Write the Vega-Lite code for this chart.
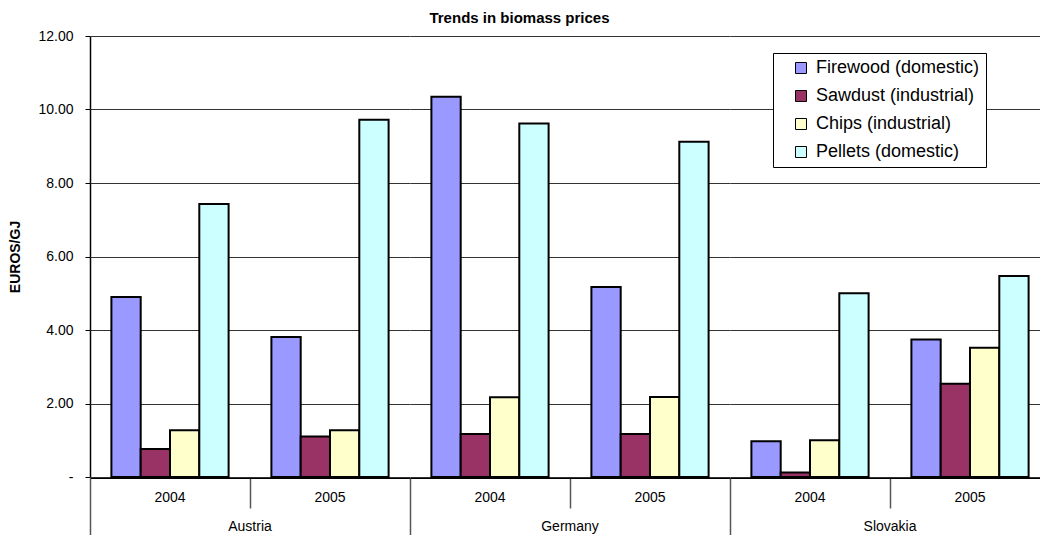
{
  "$schema": "https://vega.github.io/schema/vega-lite/v6.json",
  "padding": {"left": 8, "top": 11, "right": 0, "bottom": 0},
  "background": "#ffffff",
  "title": {"text": "Trends in biomass prices", "anchor": "middle", "font": "Liberation Sans", "fontSize": 15, "fontWeight": "bold", "color": "#000000", "baseline": "alphabetic", "offset": -9, "dx": -10},
  "data": {"values": [
    {"country": "Austria", "year": "2004", "type": "Firewood (domestic)", "value": 4.90},
    {"country": "Austria", "year": "2004", "type": "Sawdust (industrial)", "value": 0.76},
    {"country": "Austria", "year": "2004", "type": "Chips (industrial)", "value": 1.27},
    {"country": "Austria", "year": "2004", "type": "Pellets (domestic)", "value": 7.43},
    {"country": "Austria", "year": "2005", "type": "Firewood (domestic)", "value": 3.81},
    {"country": "Austria", "year": "2005", "type": "Sawdust (industrial)", "value": 1.10},
    {"country": "Austria", "year": "2005", "type": "Chips (industrial)", "value": 1.27},
    {"country": "Austria", "year": "2005", "type": "Pellets (domestic)", "value": 9.72},
    {"country": "Germany", "year": "2004", "type": "Firewood (domestic)", "value": 10.35},
    {"country": "Germany", "year": "2004", "type": "Sawdust (industrial)", "value": 1.17},
    {"country": "Germany", "year": "2004", "type": "Chips (industrial)", "value": 2.17},
    {"country": "Germany", "year": "2004", "type": "Pellets (domestic)", "value": 9.62},
    {"country": "Germany", "year": "2005", "type": "Firewood (domestic)", "value": 5.17},
    {"country": "Germany", "year": "2005", "type": "Sawdust (industrial)", "value": 1.17},
    {"country": "Germany", "year": "2005", "type": "Chips (industrial)", "value": 2.18},
    {"country": "Germany", "year": "2005", "type": "Pellets (domestic)", "value": 9.12},
    {"country": "Slovakia", "year": "2004", "type": "Firewood (domestic)", "value": 0.97},
    {"country": "Slovakia", "year": "2004", "type": "Sawdust (industrial)", "value": 0.12},
    {"country": "Slovakia", "year": "2004", "type": "Chips (industrial)", "value": 1.00},
    {"country": "Slovakia", "year": "2004", "type": "Pellets (domestic)", "value": 5.00},
    {"country": "Slovakia", "year": "2005", "type": "Firewood (domestic)", "value": 3.74},
    {"country": "Slovakia", "year": "2005", "type": "Sawdust (industrial)", "value": 2.54},
    {"country": "Slovakia", "year": "2005", "type": "Chips (industrial)", "value": 3.52},
    {"country": "Slovakia", "year": "2005", "type": "Pellets (domestic)", "value": 5.47}
  ]},
  "facet": {
    "column": {
      "field": "country", "type": "nominal",
      "header": {"title": null, "labelOrient": "bottom", "labelFont": "Liberation Sans", "labelFontSize": 14, "labelColor": "#000000", "labelPadding": -19}
    }
  },
  "spacing": 0,
  "spec": {
    "width": 320,
    "height": 441,
    "mark": {"type": "bar", "stroke": "#000000", "strokeWidth": 2},
    "encoding": {
      "x": {
        "field": "year", "type": "nominal",
        "scale": {"paddingInner": 0, "paddingOuter": 0},
        "axis": {
          "title": null, "labelAngle": 0, "bandPosition": 0, "labelOffset": 0,
          "labelFont": "Liberation Sans", "labelFontSize": 14, "labelColor": "#000000",
          "labelPadding": {"condition": {"test": "datum.value == '2004'", "value": -47.5}, "value": -17.5},
          "labelBaseline": "top",
          "domainColor": "#000000", "domainWidth": 1,
          "tickColor": "#555555", "tickWidth": 1.5,
          "tickSize": {"condition": {"test": "datum.value == '2004'", "value": 60}, "value": 30},
          "grid": false, "minExtent": 38, "maxExtent": 38
        }
      },
      "xOffset": {
        "field": "type", "type": "nominal",
        "sort": ["Firewood (domestic)", "Sawdust (industrial)", "Chips (industrial)", "Pellets (domestic)"],
        "scale": {"paddingInner": 0, "paddingOuter": 0.73}
      },
      "y": {
        "field": "value", "type": "quantitative",
        "scale": {"domain": [0, 12], "nice": false},
        "axis": {
          "title": "EUROS/GJ", "titleFont": "Liberation Sans", "titleFontSize": 14, "titleFontWeight": "bold", "titleColor": "#000000", "titlePadding": 15,
          "values": [0, 2, 4, 6, 8, 10, 12],
          "labelExpr": "datum.value == 0 ? '-\u00a0\u00a0\u00a0\u00a0' : format(datum.value, '.2f')",
          "labelFont": "Liberation Sans", "labelFontSize": 14, "labelColor": "#000000", "labelPadding": 12,
          "domainColor": "#000000", "domainWidth": 1.5,
          "tickColor": "#000000", "tickSize": 5,
          "grid": true, "gridColor": "#333333", "gridWidth": 1
        }
      },
      "color": {
        "field": "type", "type": "nominal",
        "sort": ["Firewood (domestic)", "Sawdust (industrial)", "Chips (industrial)", "Pellets (domestic)"],
        "scale": {"domain": ["Firewood (domestic)", "Sawdust (industrial)", "Chips (industrial)", "Pellets (domestic)"], "range": ["#9999FF", "#993366", "#FFFFCC", "#CCFFFF"]},
        "legend": {
          "title": null, "orient": "none", "legendX": 683, "legendY": 17,
          "labelFont": "Liberation Sans", "labelFontSize": 18, "labelColor": "#000000", "labelLimit": 400,
          "symbolType": "square", "symbolSize": 121, "symbolStrokeColor": "#000000", "symbolStrokeWidth": 1, "symbolOpacity": 1,
          "labelOffset": 6, "rowPadding": 10, "padding": 6, "symbolOffset": 13,
          "strokeColor": "#000000", "fillColor": "#ffffff"
        }
      }
    }
  },
  "config": {
    "view": {"stroke": null},
    "font": "Liberation Sans"
  }
}
